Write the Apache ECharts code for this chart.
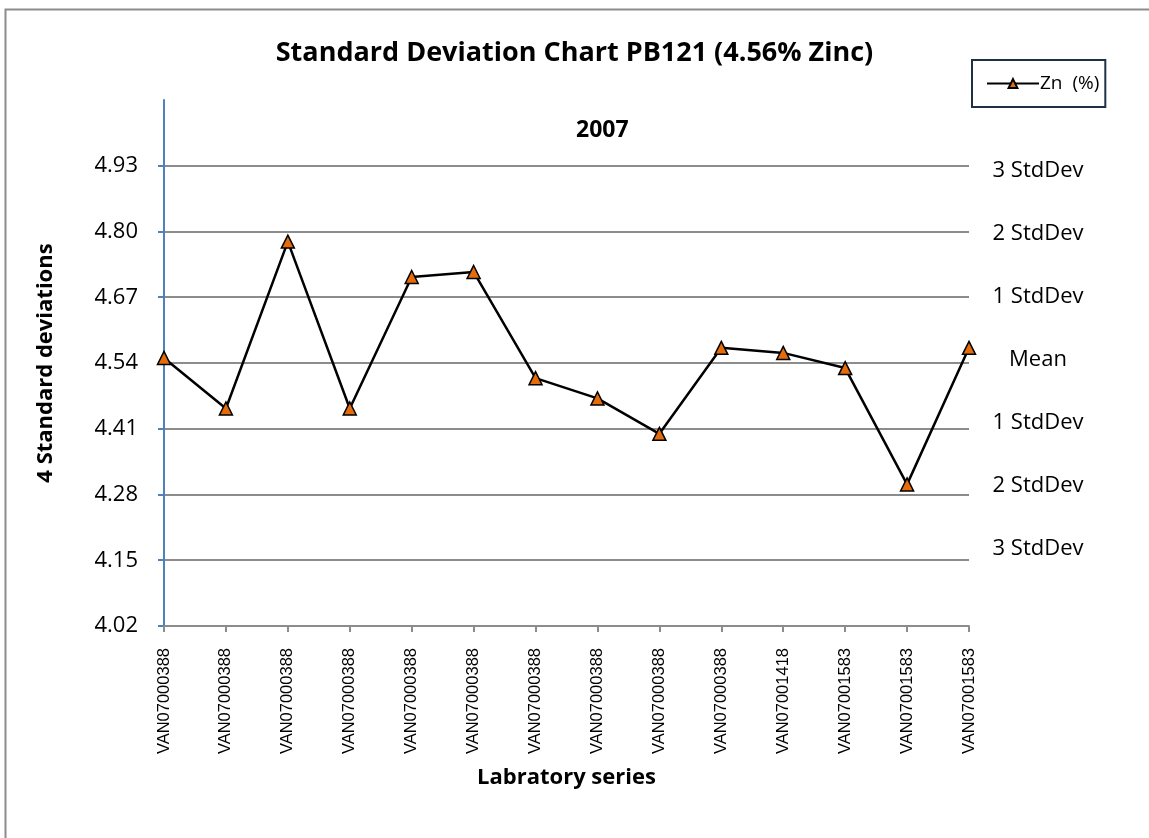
<!DOCTYPE html>
<html>
<head>
<meta charset="utf-8">
<script src="https://cdn.jsdelivr.net/npm/echarts@6/dist/echarts.min.js"></script>
<style>
  html, body { margin: 0; padding: 0; background: #fff; }
  #chart { width: 1149px; height: 838px; }
</style>
</head>
<body>
<div id="chart"></div>
<script>
// lab series on the x axis
var labs = [
  'VAN07000388', 'VAN07000388', 'VAN07000388', 'VAN07000388', 'VAN07000388',
  'VAN07000388', 'VAN07000388', 'VAN07000388', 'VAN07000388', 'VAN07000388',
  'VAN07001418', 'VAN07001583', 'VAN07001583', 'VAN07001583'
];
// Zn (%) readings
var zinc = [4.55, 4.45, 4.78, 4.45, 4.71, 4.72, 4.51, 4.47, 4.40, 4.57, 4.56, 4.53, 4.30, 4.57];

// left axis: 4.02 .. 5.06, step 0.13
var yMin = 4.02, yMax = 5.06, yStep = 0.13;

// right side band labels, top to bottom (+3 .. -3)
var bandSteps = [3, 2, 1, 0, -1, -2, -3];
var bandNames = { '3': '3 StdDev', '2': '2 StdDev', '1': '1 StdDev', '0': 'Mean',
                  '-1': '1 StdDev', '-2': '2 StdDev', '-3': '3 StdDev' };

var chartDom = document.getElementById('chart');
var myChart = echarts.init(chartDom);
var option;

var labelFont = 'Open Sans, sans-serif';

option = {
  backgroundColor: '#fff',
  animation: false,
  title: [
    {
      text: 'Standard Deviation Chart PB121 (4.56% Zinc)',
      left: 'center',
      top: 35,
      textStyle: { fontFamily: labelFont, fontWeight: 'bold', fontSize: 27, color: '#000' }
    },
    {
      text: '2007',
      left: 571,
      top: 114,
      textStyle: { fontFamily: labelFont, fontWeight: 'bold', fontSize: 23, color: '#000' }
    }
  ],
  legend: {
    left: 972,
    top: 60,
    width: 136,
    height: 48,
    padding: [14, 6, 14, 14],
    borderColor: '#1f2f46',
    borderWidth: 2,
    itemWidth: 52,
    itemHeight: 11,
    itemGap: 4,
    textStyle: { fontFamily: labelFont, fontSize: 19, color: '#000', padding: [0, 0, 0, -4] },
    data: ['Zn  (%)']
  },
  grid: {
    left: 164,
    right: 180,
    top: 100,
    bottom: 212,
    outerBoundsMode: 'none'
  },
  xAxis: {
    type: 'category',
    data: labs,
    boundaryGap: false,
    name: 'Labratory series',
    nameLocation: 'middle',
    nameGap: 141,
    nameTextStyle: { fontFamily: labelFont, fontWeight: 'bold', fontSize: 22, color: '#000' },
    axisLine: { onZero: false, lineStyle: { color: '#8c8c8c', width: 2 } },
    axisTick: { show: true, alignWithLabel: true, length: 6, lineStyle: { color: '#8c8c8c', width: 2 } },
    axisLabel: {
      rotate: 90,
      interval: 0,
      margin: 22,
      fontFamily: 'Liberation Sans, Arial, sans-serif',
      fontSize: 16.5,
      color: '#000'
    },
    splitLine: { show: false }
  },
  yAxis: [
    {
      type: 'value',
      min: yMin,
      max: yMax,
      interval: yStep,
      name: '4 Standard deviations',
      nameLocation: 'middle',
      nameGap: 107,
      nameRotate: 90,
      nameTextStyle: { fontFamily: labelFont, fontWeight: 'bold', fontSize: 22, color: '#000' },
      axisLine: { show: true, lineStyle: { color: '#4f81bd', width: 2 } },
      axisTick: { show: true, length: 6, lineStyle: { color: '#4f81bd', width: 2 } },
      axisLabel: {
        margin: 26,
        showMaxLabel: false,
        fontFamily: labelFont,
        fontSize: 22,
        color: '#000',
        formatter: function (v) { return v.toFixed(2); }
      },
      splitLine: {
        show: true,
        showMaxLine: false,
        lineStyle: { color: '#8c8c8c', width: 2 }
      }
    },
    {
      // band names sit at their own spacing on the right
      type: 'value',
      position: 'right',
      min: -4.224,
      max: 4.116,
      axisLine: { show: false },
      axisTick: { show: false },
      splitLine: { show: false },
      axisLabel: {
        customValues: bandSteps,
        margin: 69,
        align: 'center',
        fontFamily: labelFont,
        fontSize: 22,
        color: '#000',
        formatter: function (v) { return bandNames[String(Math.round(v))] || ''; }
      }
    }
  ],
  graphic: [
    {
      type: 'rect',
      silent: true,
      shape: { x: 5.5, y: 9.5, width: 1200, height: 900 },
      style: { fill: null, stroke: '#8c8c8c', lineWidth: 2 }
    }
  ],
  series: [
    {
      name: 'Zn  (%)',
      type: 'line',
      data: zinc,
      yAxisIndex: 0,
      symbol: 'triangle',
      symbolSize: 13,
      showAllSymbol: true,
      lineStyle: { color: '#000', width: 2.5 },
      itemStyle: { color: '#e46c0a', borderColor: '#000', borderWidth: 1.5 },
      emphasis: { disabled: true }
    }
  ]
};

option && myChart.setOption(option);
</script>
</body>
</html>
